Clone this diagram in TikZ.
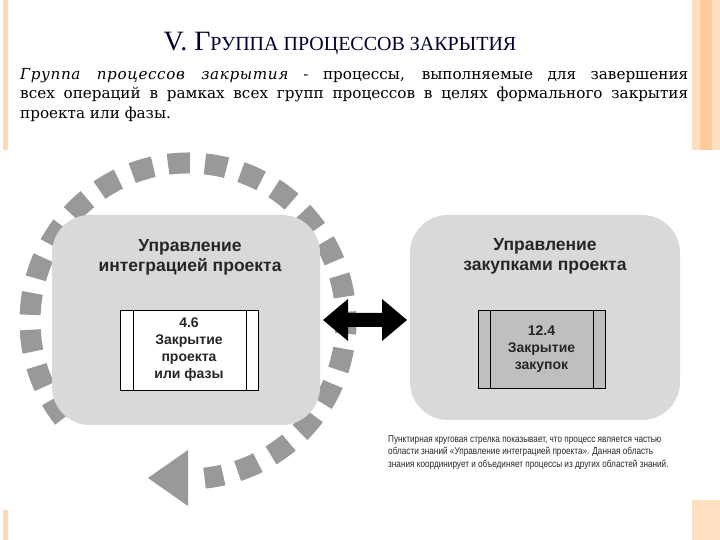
\documentclass[tikz,border=0pt]{standalone}
\usepackage{fontspec}
\setmainfont{Liberation Serif}
\setsansfont{Liberation Sans}
\newfontfamily\bodyfont{DejaVu Serif}
\newfontfamily\capfont[FakeStretch=0.82]{Liberation Sans}
\usetikzlibrary{calc}
\begin{document}
\begin{tikzpicture}[x=1pt,y=1pt,
  area/.style={fill=black!15,rounded corners=38pt,draw=none},
  areatitle/.style={font=\sffamily\bfseries\fontsize{17.5}{20}\selectfont,align=center,text=black!85},
  proc/.style={draw=black,line width=0.8pt,minimum width=138pt,minimum height=80pt,inner sep=0pt},
  proctext/.style={font=\sffamily\bfseries\fontsize{14}{17}\selectfont,align=center,text=black!85}]
\useasboundingbox (0,0) rectangle (720,540);
% side stripes
\fill[orange!30] (3,390) rectangle (8,540);
\fill[orange!30] (3,0) rectangle (8,30);
\fill[orange!25] (692,390) rectangle (720,540);
\fill[orange!40] (700,390) rectangle (712,540);
\fill[orange!25] (692,0) rectangle (720,40);
% title
\node[text=black!70!blue!60!black,anchor=center] (title) at (340,497)
  {\fontsize{28}{30}\selectfont V. Г\fontsize{20}{22}\selectfont РУППА ПРОЦЕССОВ ЗАКРЫТИЯ};
% body text
\node[anchor=north west,inner sep=0pt,text width=668pt,align=justify] (body) at (20,472)
 {\bodyfont\fontsize{15.2}{19.5}\selectfont\textit{\addfontfeature{LetterSpace=4}Группа процессов закрытия} - процессы, выполняемые для завершения\linebreak всех операций в рамках всех групп процессов в целях формального закрытия\linebreak проекта или фазы.\par};
% dashed circular arrow
\draw[black!40,line width=21pt,dash pattern=on 22pt off 15pt] (188,219) ++(218:158) arc[start angle=218,end angle=-84,radius=158];
\fill[black!40] (148,62) -- (188,90) -- (188,34) -- cycle;
% left area
\fill[area] (52,115) rectangle (320,325);
\node[areatitle] (lt) at (190,283) {Управление\\интеграцией проекта};
\node[proc,fill=white] (p1) at (189,190) {};
\draw (133,150) -- (133,230) (246,150) -- (246,230);
\node[proctext] at (p1) {4.6\\Закрытие\\проекта\\или фазы};
% right area
\fill[area] (410,120) rectangle (680,325);
\node[areatitle] (rt) at (545,284) {Управление\\закупками проекта};
\node[proc,fill=black!25,minimum width=127pt,minimum height=78pt] (p2) at (541.5,191) {};
\draw (490,152) -- (490,230) (593,152) -- (593,230);
\node[proctext] at (p2) {12.4\\Закрытие\\закупок};
% double arrow
\coordinate (la) at (323,220);
\coordinate (ra) at (407,220);
\fill[black] (la) -- ++(25,21) -- ++(0,-14) -- ($(ra)+(-25,7)$) -- ++(0,14) -- (ra) -- ++(-25,-21) -- ++(0,14) -- ($(la)+(25,-7)$) -- ++(0,-14) -- cycle;
% caption
\node[anchor=north west,inner sep=0pt,align=left,font=\capfont\fontsize{10}{12.5}\selectfont,text=black!85] (cap) at (388,105)
 {Пунктирная круговая стрелка показывает, что процесс является частью\\области знаний «Управление интеграцией проекта». Данная область\\знания координирует и объединяет процессы из других областей знаний.};
\end{tikzpicture}
\end{document}
